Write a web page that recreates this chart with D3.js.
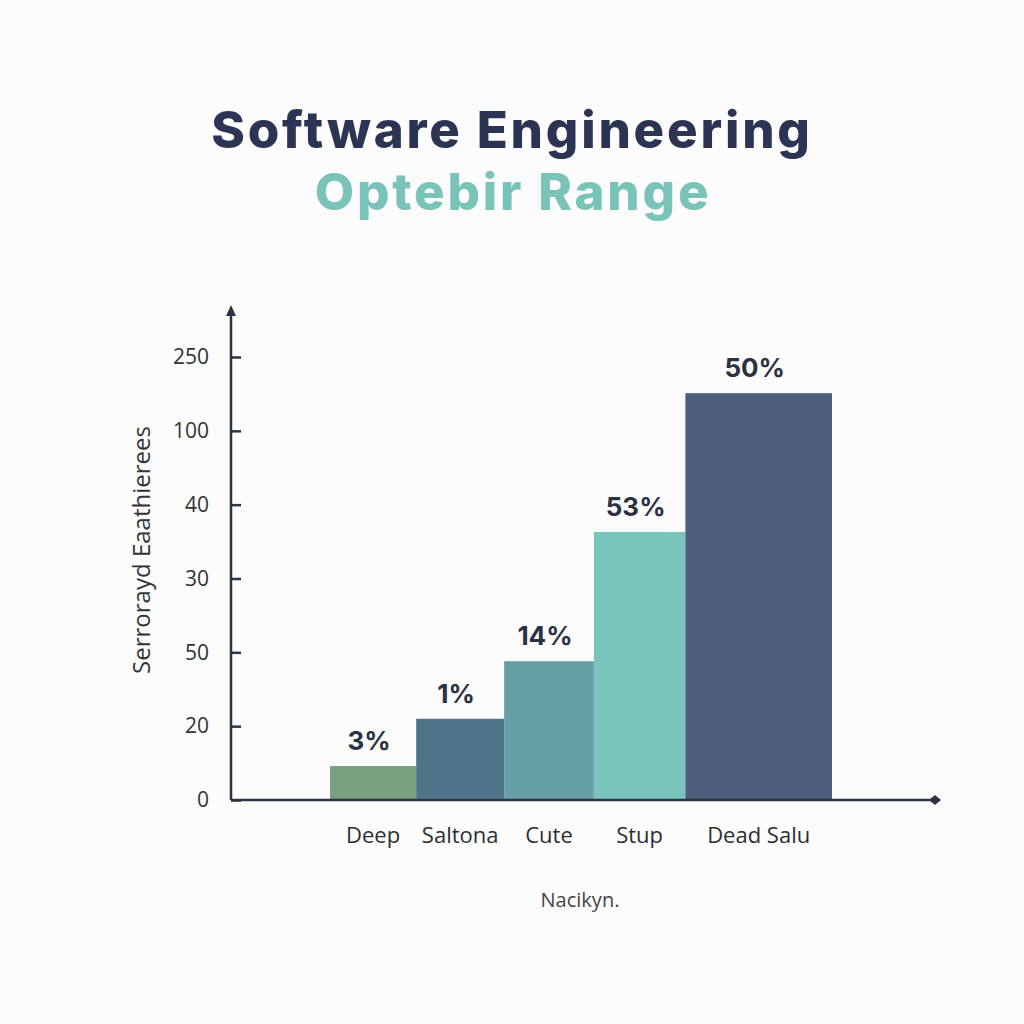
<!DOCTYPE html>
<html>
<head>
<meta charset="utf-8">
<script src="https://cdn.jsdelivr.net/npm/d3@7"></script>
<style>
  html, body { margin: 0; padding: 0; background: #fcfcfc; }
  svg { display: block; }
</style>
</head>
<body>
<svg id="chart" width="1024" height="1024"></svg>
<script>
// ---- data ----
const categories = ["Deep", "Saltona", "Cute", "Stup", "Dead Salu"];
// bar heights, in units of tick steps on the (evenly spaced) y axis
const values = [0.46, 1.10, 1.88, 3.63, 5.51];
const valueLabels = ["3%", "1%", "14%", "53%", "50%"];
const barWeights = [0.97, 0.99, 1.01, 1.03, 1.65];
const barColors = ["#79a07f", "#4f7489", "#66a0a6", "#79c5bc", "#505e7e"];
const yTickLabels = ["0", "20", "50", "30", "40", "100", "250"];
const titleText = "Software Engineering";
const subtitleText = "Optebir Range";
const yAxisTitle = "Serrorayd Eaathierees";
const xAxisTitle = "Nacikyn.";

// ---- layout ----
const svg = d3.select("#chart");
const axisX = 231, axisY = 800;
const barsLeft = 330, barsRight = 832;
const yTop = 357;

const y = d3.scaleLinear().domain([0, yTickLabels.length - 1]).range([axisY, yTop]);

const cum = [0];
barWeights.forEach((w, i) => cum.push(cum[i] + w));
const x = d3.scaleLinear().domain([0, cum[cum.length - 1]]).range([barsLeft, barsRight]);

const dark = "#2b3445";
const labelFont = "'Open Sans', 'Liberation Sans', Arial, sans-serif";

// title
svg.append("text")
  .attr("x", 512).attr("y", 148)
  .attr("text-anchor", "middle")
  .attr("font-family", "Inter, 'Open Sans', sans-serif")
  .attr("font-weight", 800)
  .attr("font-size", 51)
  .attr("letter-spacing", 2.8)
  .attr("fill", "#2b3553")
  .text(titleText);
svg.append("text")
  .attr("x", 513).attr("y", 210)
  .attr("text-anchor", "middle")
  .attr("font-family", "Inter, 'Open Sans', sans-serif")
  .attr("font-weight", 800)
  .attr("font-size", 51)
  .attr("letter-spacing", 2.8)
  .attr("fill", "#79c3b9")
  .text(subtitleText);

// bars
const bars = categories.map((c, i) => ({ c, v: values[i], l: valueLabels[i], x0: cum[i], x1: cum[i + 1], col: barColors[i] }));
svg.append("g").selectAll("rect").data(bars).join("rect")
  .attr("x", d => x(d.x0))
  .attr("width", d => x(d.x1) - x(d.x0))
  .attr("y", d => y(d.v))
  .attr("height", d => y(0) - y(d.v))
  .attr("fill", d => d.col);

// value labels
svg.append("g").selectAll("text").data(bars).join("text")
  .attr("x", d => (x(d.x0) + x(d.x1)) / 2 - 4)
  .attr("y", d => y(d.v) - 16)
  .attr("text-anchor", "middle")
  .attr("font-family", "Inter, 'Open Sans', sans-serif")
  .attr("font-weight", 700)
  .attr("font-size", 26)
  .attr("fill", "#2a3140")
  .text(d => d.l);

// category labels
svg.append("g").selectAll("text").data(bars).join("text")
  .attr("x", d => (x(d.x0) + x(d.x1)) / 2)
  .attr("y", 843)
  .attr("text-anchor", "middle")
  .attr("font-family", labelFont)
  .attr("font-size", 22)
  .attr("fill", "#2d2d33")
  .text(d => d.c);

// y axis
const yAxis = d3.axisLeft(y)
  .tickValues(d3.range(yTickLabels.length))
  .tickFormat(i => yTickLabels[i])
  .tickSizeInner(-10)
  .tickSizeOuter(0)
  .tickPadding(22);
const gy = svg.append("g").attr("transform", `translate(${axisX},0)`).call(yAxis);
gy.select(".domain").remove();
gy.selectAll(".tick line").attr("stroke", dark).attr("stroke-width", 2.5);
gy.selectAll(".tick text")
  .attr("font-family", labelFont)
  .attr("font-size", 21)
  .attr("fill", "#333");

// y axis line with arrow
svg.append("line")
  .attr("x1", axisX).attr("x2", axisX)
  .attr("y1", axisY).attr("y2", 314)
  .attr("stroke", dark).attr("stroke-width", 2.5);
svg.append("path")
  .attr("d", `M${axisX - 5},${316} L${axisX},${305} L${axisX + 5},${316} Z`)
  .attr("fill", dark);

// x axis line with end marker
svg.append("line")
  .attr("x1", axisX).attr("x2", 934)
  .attr("y1", axisY).attr("y2", axisY)
  .attr("stroke", dark).attr("stroke-width", 2.5);
svg.append("path")
  .attr("d", `M${929},${axisY} L${935},${axisY - 5} L${941},${axisY} L${935},${axisY + 5} Z`)
  .attr("fill", dark);

// axis titles
svg.append("text")
  .attr("transform", `translate(150,550) rotate(-90)`)
  .attr("text-anchor", "middle")
  .attr("font-family", labelFont)
  .attr("font-size", 24)
  .attr("fill", "#333")
  .text(yAxisTitle);

svg.append("text")
  .attr("x", 580).attr("y", 907)
  .attr("text-anchor", "middle")
  .attr("font-family", labelFont)
  .attr("font-size", 20)
  .attr("fill", "#444")
  .text(xAxisTitle);
</script>
</body>
</html>
